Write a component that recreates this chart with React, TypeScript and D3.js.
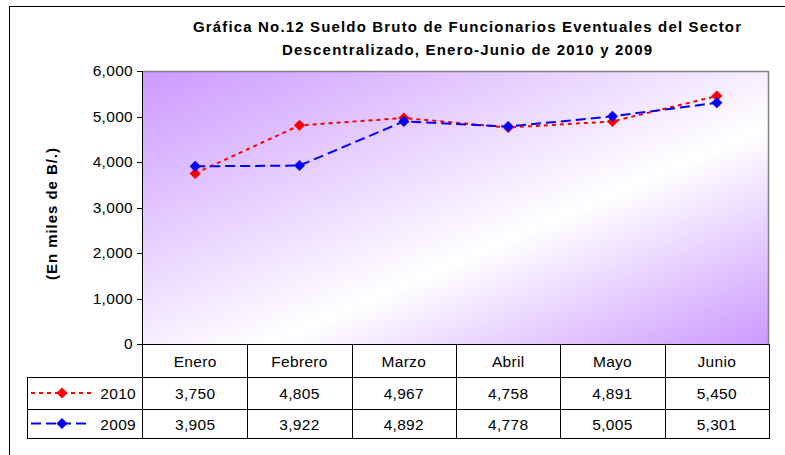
import React from 'react';
import * as d3 from 'd3';

const months = ['Enero', 'Febrero', 'Marzo', 'Abril', 'Mayo', 'Junio'];
const values2010 = [3750, 4805, 4967, 4758, 4891, 5450];
const values2009 = [3905, 3922, 4892, 4778, 5005, 5301];
const yTicks = [0, 1000, 2000, 3000, 4000, 5000, 6000];
const titleLines = [
  'Gráfica No.12 Sueldo Bruto de Funcionarios Eventuales del Sector',
  'Descentralizado, Enero-Junio de 2010 y 2009',
];
const titleWidths = [548, 370];

const series = [
  { name: '2010', values: values2010, color: '#FF0000', dash: '4,4' },
  { name: '2009', values: values2009, color: '#0000FF', dash: '10,5' },
];

const W = 785;
const H = 455;
const left = 143;
const right = 769;
const top = 71;
const bottom = 344;
const rowH = [344, 377, 409, 438];
const tableLeft = 27;
const font = '"Liberation Sans", Arial, sans-serif';

export default function App() {
  const x = d3.scaleBand().domain(months).range([left, right]);
  const y = d3.scaleLinear().domain([0, 6000]).range([bottom, top]);
  const fmt = d3.format(',');
  const line = d3
    .line<number>()
    .x((_, i) => x(months[i])! + x.bandwidth() / 2)
    .y((d) => y(d));
  const diamond = d3.symbol(d3.symbolSquare, 62)()!;

  return (
    <svg width={W} height={H} style={{ position: 'absolute', left: 0, top: 0, background: '#fff' }}>
      <defs>
        <linearGradient id="bg" x1="0" y1="0" x2="1" y2="1">
          <stop offset="0" stopColor="#CC99FF" />
          <stop offset="0.6" stopColor="#FFFFFF" />
          <stop offset="1" stopColor="#CC99FF" />
        </linearGradient>
      </defs>

      {/* outer frame */}
      <rect x={9.5} y={6.5} width={W + 10} height={H + 10} fill="none" stroke="#000" />

      {/* title */}
      {titleLines.map((t, i) => (
        <text
          key={i}
          x={467}
          y={32 + i * 23}
          textAnchor="middle"
          fontFamily={font}
          fontWeight="bold"
          fontSize={15}
          textLength={titleWidths[i]}
          lengthAdjust="spacing"
        >
          {t}
        </text>
      ))}

      {/* plot area */}
      <rect x={left} y={top} width={right - left} height={bottom - top} fill="url(#bg)" />
      <path d={`M${left},${top + 0.5}H${right - 0.5}V${bottom}`} fill="none" stroke="#808080" strokeWidth={1.5} />

      {/* y axis */}
      <line x1={left - 0.5} x2={left - 0.5} y1={top} y2={rowH[3]} stroke="#000" />
      {yTicks.map((t) => (
        <g key={t}>
          <line x1={left - 6} x2={left} y1={Math.round(y(t)) + 0.5} y2={Math.round(y(t)) + 0.5} stroke="#000" />
          <text x={left - 10} y={y(t) + 5} textAnchor="end" fontFamily={font} fontSize={15.5} letterSpacing={0.3}>
            {fmt(t)}
          </text>
        </g>
      ))}
      <text
        transform={`translate(57,214) rotate(-90)`}
        textAnchor="middle"
        fontFamily={font}
        fontWeight="bold"
        fontSize={15}
        textLength={132}
        lengthAdjust="spacing"
      >
        (En miles de B/.)
      </text>

      {/* series */}
      {series.map((s) => (
        <g key={s.name}>
          <path d={line(s.values)!} fill="none" stroke={s.color} strokeWidth={2} strokeDasharray={s.dash} />
          {s.values.map((v, i) => (
            <path
              key={i}
              d={diamond}
              transform={`translate(${x(months[i])! + x.bandwidth() / 2},${y(v)}) rotate(45)`}
              fill={s.color}
            />
          ))}
        </g>
      ))}

      {/* data table */}
      <g stroke="#000" strokeWidth={1} fill="none">
        <line x1={left} x2={right} y1={rowH[0] + 0.5} y2={rowH[0] + 0.5} />
        {rowH.slice(1).map((r) => (
          <line key={r} x1={tableLeft} x2={right} y1={r + 0.5} y2={r + 0.5} />
        ))}
        <line x1={tableLeft + 0.5} x2={tableLeft + 0.5} y1={rowH[1]} y2={rowH[3] + 1} />
        {months.map((m) => (
          <line key={m} x1={Math.round(x(m)! + x.bandwidth()) + 0.5} x2={Math.round(x(m)! + x.bandwidth()) + 0.5} y1={rowH[0]} y2={rowH[3] + 1} />
        ))}
      </g>
      {months.map((m) => (
        <text key={m} x={x(m)! + x.bandwidth() / 2} y={(rowH[0] + rowH[1]) / 2 + 6} textAnchor="middle" fontFamily={font} fontSize={15.5} letterSpacing={0.3}>
          {m}
        </text>
      ))}
      {series.map((s, r) => {
        const cy = (rowH[r + 1] + rowH[r + 2]) / 2;
        return (
          <g key={s.name}>
            <line x1={31} x2={91} y1={cy} y2={cy} stroke={s.color} strokeWidth={2} strokeDasharray={s.dash} />
            <path d={diamond} transform={`translate(62,${cy}) rotate(45)`} fill={s.color} />
            <text x={136} y={cy + 6} textAnchor="end" fontFamily={font} fontSize={15.5} letterSpacing={0.3}>
              {s.name}
            </text>
            {s.values.map((v, i) => (
              <text key={i} x={x(months[i])! + x.bandwidth() / 2} y={cy + 6} textAnchor="middle" fontFamily={font} fontSize={15.5} letterSpacing={0.3}>
                {fmt(v)}
              </text>
            ))}
          </g>
        );
      })}
    </svg>
  );
}
